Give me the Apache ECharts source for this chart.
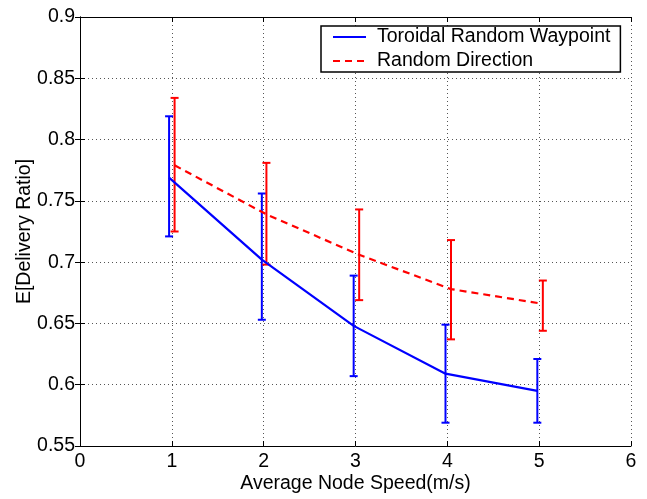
<!DOCTYPE html>
<html><head><meta charset="utf-8">
<script src="https://cdn.jsdelivr.net/npm/echarts@6/dist/echarts.min.js"></script>
<style>html,body{margin:0;padding:0;background:#fff}#c{width:647px;height:499px}</style>
</head><body><div id="c"></div>
<script>
const xTicks = [0, 1, 2, 3, 4, 5, 6];
const yTicks = [0.55, 0.6, 0.65, 0.7, 0.75, 0.8, 0.85, 0.9];
const seriesNames = ['Toroidal Random Waypoint', 'Random Direction'];
const trwX = [0.97, 1.98, 2.98, 3.98, 4.98];
const trwMean = [0.769, 0.702, 0.648, 0.609, 0.595];
const trwLow = [0.721, 0.653, 0.607, 0.569, 0.569];
const trwHigh = [0.819, 0.756, 0.689, 0.649, 0.621];
const rdX = [1.03, 2.03, 3.04, 4.04, 5.04];
const rdMean = [0.779, 0.739, 0.706, 0.678, 0.666];
const rdLow = [0.725, 0.698, 0.669, 0.637, 0.644];
const rdHigh = [0.834, 0.781, 0.743, 0.718, 0.685];

const FONT = 'Liberation Sans';
const chart = echarts.init(document.getElementById('c'));

function errData(xs, lo, hi) { return xs.map((x, i) => [x, lo[i], hi[i]]); }
function errRender(color) {
  return function (params, api) {
    const x = api.value(0);
    const pLo = api.coord([x, api.value(1)]);
    const pHi = api.coord([x, api.value(2)]);
    const hw = 4;
    const style = { stroke: color, lineWidth: 2 };
    return {
      type: 'group',
      children: [
        { type: 'line', shape: { x1: pLo[0], y1: pLo[1], x2: pHi[0], y2: pHi[1] }, style },
        { type: 'line', shape: { x1: pLo[0] - hw, y1: pLo[1], x2: pLo[0] + hw, y2: pLo[1] }, style },
        { type: 'line', shape: { x1: pHi[0] - hw, y1: pHi[1], x2: pHi[0] + hw, y2: pHi[1] }, style }
      ]
    };
  };
}

const gridLine = { show: true, lineStyle: { color: '#555', type: [1, 3], width: 1 } };
const axisLine = { show: true, lineStyle: { color: '#000', width: 1 } };
const tick = { show: true, inside: true, length: 5, lineStyle: { color: '#000' } };
const lbl = { color: '#000', fontFamily: FONT, fontSize: 19.5 };

chart.setOption({
  animation: false,
  backgroundColor: '#fff',
  grid: { left: 80, right: 16, top: 17, bottom: 46, containLabel: false },
  xAxis: [
    { type: 'value', position: 'bottom', min: xTicks[0], max: xTicks[xTicks.length - 1], interval: 1,
      axisLine, axisTick: tick, splitLine: gridLine,
      axisLabel: Object.assign({ margin: 6 }, lbl),
      name: 'Average Node Speed(m/s)', nameLocation: 'middle', nameGap: 28, nameMoveOverlap: false,
      nameTextStyle: { color: '#000', fontFamily: FONT, fontSize: 19.5 } },
    { type: 'value', position: 'top', min: xTicks[0], max: xTicks[xTicks.length - 1], interval: 1,
      axisLine, axisTick: tick, splitLine: { show: false }, axisLabel: { show: false } }
  ],
  yAxis: [
    { type: 'value', position: 'left', min: yTicks[0], max: yTicks[yTicks.length - 1], interval: 0.05,
      axisLine, axisTick: tick, splitLine: gridLine,
      axisLabel: Object.assign({ margin: 5, formatter: v => String(+v.toFixed(2)) }, lbl),
      name: 'E[Delivery Ratio]', nameLocation: 'middle', nameGap: 45, nameMoveOverlap: false,
      nameTextStyle: { color: '#000', fontFamily: FONT, fontSize: 19.5 } },
    { type: 'value', position: 'right', min: yTicks[0], max: yTicks[yTicks.length - 1], interval: 0.05,
      axisLine, axisTick: tick, splitLine: { show: false }, axisLabel: { show: false } }
  ],
  legend: {
    data: seriesNames,
    orient: 'vertical',
    left: 321, top: 26,
    padding: [1, 10, 1, 11],
    itemGap: 4,
    itemWidth: 33, itemHeight: 14,
    backgroundColor: '#fff',
    borderColor: '#000', borderWidth: 1.5,
    itemStyle: { opacity: 0 },
    textStyle: { color: '#000', fontFamily: FONT, fontSize: 19.5, padding: [0, 0, 0, 6] }
  },
  series: [
    { name: seriesNames[0], type: 'line', data: trwX.map((x, i) => [x, trwMean[i]]),
      symbol: 'none', lineStyle: { color: '#0000ff', width: 2.2 }, itemStyle: { color: '#0000ff' } },
    { name: seriesNames[1], type: 'line', data: rdX.map((x, i) => [x, rdMean[i]]),
      symbol: 'none', lineStyle: { color: '#ff0000', width: 2.2, type: [7, 5] }, itemStyle: { color: '#ff0000' } },
    { type: 'custom', data: errData(trwX, trwLow, trwHigh), renderItem: errRender('#0000ff'), z: 3 },
    { type: 'custom', data: errData(rdX, rdLow, rdHigh), renderItem: errRender('#ff0000'), z: 3 }
  ]
});
</script></body></html>
